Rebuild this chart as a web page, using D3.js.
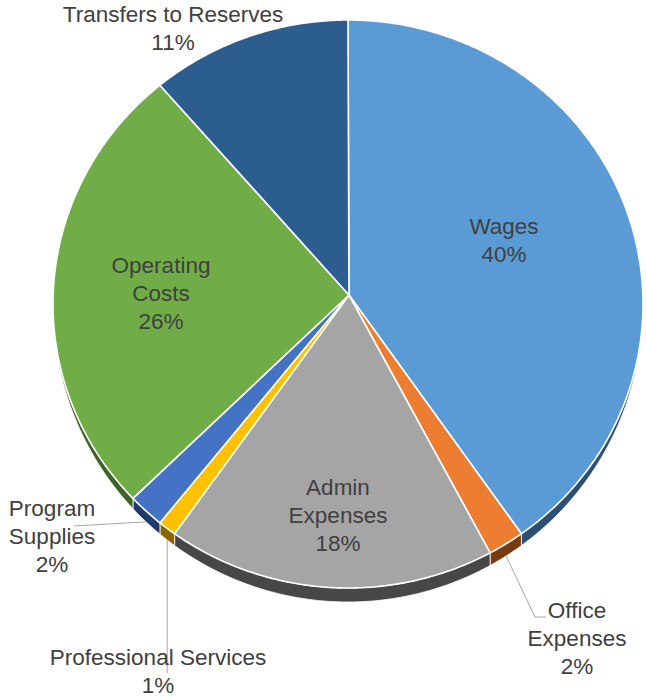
<!DOCTYPE html>
<html>
<head>
<meta charset="utf-8">
<script src="https://cdn.jsdelivr.net/npm/d3@7"></script>
<style>
  html, body { margin: 0; padding: 0; background: #fff; }
  svg { display: block; }
  .lbl { font-family: "Liberation Sans", Arial, sans-serif; font-size: 22.5px; fill: #404040; }
</style>
</head>
<body>
<svg id="chart" width="646" height="697"></svg>
<script>
// data
const categories = ["Wages", "Office Expenses", "Admin Expenses", "Professional Services",
                    "Program Supplies", "Operating Costs", "Transfers to Reserves"];
const shares = [40, 2, 18, 1, 2, 26, 11];
const labelLines = [["Wages"], ["Office", "Expenses"], ["Admin", "Expenses"], ["Professional Services"],
                    ["Program", "Supplies"], ["Operating", "Costs"], ["Transfers to Reserves"]];

// styles
const topColors  = ["#5B9BD5", "#ED7D31", "#A5A5A5", "#FFC000", "#4472C4", "#70AD47", "#2B5D8E"];
const sideColors = ["#2D4F72", "#7A3A10", "#474747", "#8A6500", "#1F3B6E", "#3E6328", "#16314D"];

// label placement (baseline of first line); leader = elbow/end points, null if label sits inside
const labelLayout = [
  { x: 504, y: 234, leader: null },
  { x: 577, y: 618, leader: [[535, 617], [546, 617]] },
  { x: 338, y: 495, leader: null },
  { x: 158, y: 665, leader: [[null, 673]] },
  { x: 52,  y: 516, leader: [[74, 526]] },
  { x: 161, y: 273, leader: null },
  { x: 173, y: 22,  leader: null }
];

const svg = d3.select("#chart");
const cx = 348, cy = 304, rx = 295, ry = 284, depth = 14;
const apex = [349, 295];
const lineH = 28;

const pt = (a, dy = 0) => [cx + rx * Math.sin(a), cy - ry * Math.cos(a) + dy];
// side thickness tapers toward the left/right rims
const thick = a => depth * Math.pow(Math.max(0, -Math.cos(a)), 0.8);
const sample = (a0, a1, bottom = false) => {
  const n = Math.max(2, Math.ceil((a1 - a0) / 0.01));
  return d3.range(n + 1).map(i => {
    const a = a0 + (a1 - a0) * i / n;
    return pt(a, bottom ? thick(a) : 0);
  });
};

const pie = d3.pie().sort(null).value(d => d).startAngle(0).endAngle(2 * Math.PI);
const arcs = pie(shares);
const line = d3.line();

// sides (front half only)
const gSide = svg.append("g");
arcs.forEach((d, i) => {
  const s = Math.max(d.startAngle, Math.PI / 2);
  const e = Math.min(d.endAngle, 3 * Math.PI / 2);
  if (s >= e) return;
  const pts = sample(s, e).concat(sample(s, e, true).reverse());
  gSide.append("path")
    .attr("d", line(pts) + "Z")
    .attr("fill", sideColors[i])
    .attr("stroke", "#fff")
    .attr("stroke-width", 0.8)
    .attr("stroke-linejoin", "round");
});

// top surface
const gTop = svg.append("g");
arcs.forEach((d, i) => {
  const pts = [apex].concat(sample(d.startAngle, d.endAngle));
  gTop.append("path")
    .attr("d", line(pts) + "Z")
    .attr("fill", topColors[i])
    .attr("stroke", "#fff")
    .attr("stroke-width", 1.6)
    .attr("stroke-linejoin", "round");
});

// leader lines
const gLead = svg.append("g");
arcs.forEach((d, i) => {
  const L = labelLayout[i];
  if (!L.leader) return;
  const mid = (d.startAngle + d.endAngle) / 2;
  const start = pt(mid, thick(mid));
  const pts = [start].concat(L.leader.map(p => [p[0] === null ? start[0] : p[0], p[1]]));
  gLead.append("path")
    .attr("d", line(pts))
    .attr("fill", "none")
    .attr("stroke", "#a6a6a6")
    .attr("stroke-width", 1);
});

// labels
const gLbl = svg.append("g");
arcs.forEach((d, i) => {
  const L = labelLayout[i];
  const t = gLbl.append("text")
    .attr("class", "lbl")
    .attr("text-anchor", "middle");
  labelLines[i].concat([d3.format(".0f")(d.data) + "%"]).forEach((s, j) => {
    t.append("tspan").attr("x", L.x).attr("y", L.y + j * lineH).text(s);
  });
});
</script>
</body>
</html>
